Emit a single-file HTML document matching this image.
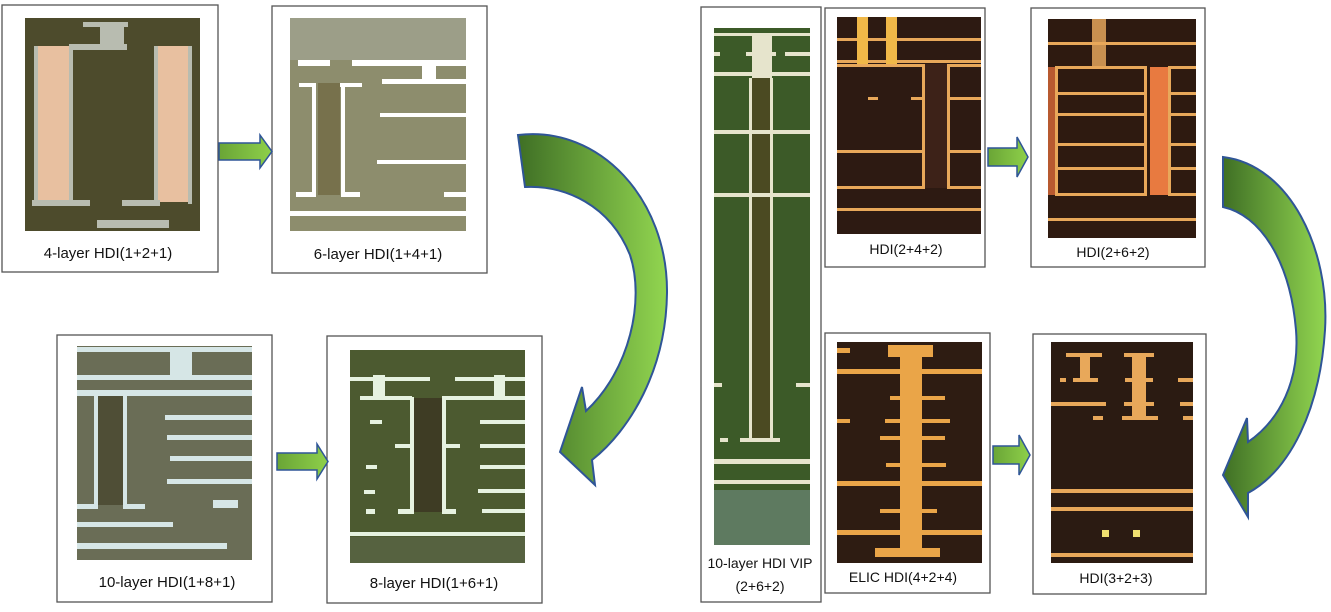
<!DOCTYPE html>
<html><head><meta charset="utf-8"><style>
html,body{margin:0;padding:0;background:#fff;width:1331px;height:612px;overflow:hidden}
svg{display:block}
text{font-family:"Liberation Sans",sans-serif;font-size:15px;fill:#111;text-anchor:middle}
</style></head><body>
<svg width="1331" height="612" viewBox="0 0 1331 612" xmlns="http://www.w3.org/2000/svg">
<defs>
<linearGradient id="g1" x1="0" y1="0" x2="1" y2="0"><stop offset="0" stop-color="#3f6f25"/><stop offset="1" stop-color="#92d650"/></linearGradient>
<linearGradient id="g2" x1="0" y1="0" x2="1" y2="0"><stop offset="0" stop-color="#6aa536"/><stop offset="1" stop-color="#8ed04a"/></linearGradient>
</defs>
<g fill="#fff" stroke="#555" stroke-width="1.3">
<rect x="2" y="5" width="216" height="267"/>
<rect x="272" y="6" width="215" height="267"/>
<rect x="57" y="335" width="215" height="267"/>
<rect x="327" y="336" width="215" height="267"/>
<rect x="701" y="7" width="120" height="595"/>
<rect x="825" y="8" width="160" height="259"/>
<rect x="1031" y="8" width="174" height="259"/>
<rect x="825" y="333" width="165" height="260"/>
<rect x="1033" y="334" width="173" height="260"/>
</g>
<!-- Image 1 -->
<rect x="25" y="18" width="175" height="213" fill="#4d4b2c"/>
<rect x="37" y="46" width="32" height="156" fill="#e8c0a0"/>
<rect x="157" y="46" width="31" height="156" fill="#e8c0a0"/>
<g fill="#b8bcb0">
<rect x="34" y="46" width="4" height="158"/><rect x="69" y="46" width="4" height="158"/>
<rect x="154" y="46" width="4" height="158"/><rect x="188" y="46" width="4" height="158"/>
<rect x="100" y="22" width="24" height="24"/><rect x="83" y="22" width="45" height="5"/>
<rect x="69" y="44" width="58" height="6"/><rect x="32" y="200" width="58" height="6"/><rect x="122" y="200" width="38" height="6"/>
<rect x="97" y="220" width="72" height="8"/>
</g>
<!-- Image 2 -->
<rect x="290" y="18" width="176" height="213" fill="#8d8d6d"/>
<rect x="290" y="18" width="176" height="42" fill="#9c9e88"/>
<rect x="318" y="83" width="22" height="112" fill="#77714c"/>
<g fill="#fff">
<rect x="298" y="60" width="32" height="6"/><rect x="352" y="60" width="114" height="6"/>
<rect x="422" y="62" width="14" height="20"/><rect x="382" y="79" width="84" height="5"/>
<rect x="299" y="83" width="17" height="4"/><rect x="340" y="83" width="22" height="4"/>
<rect x="312" y="85" width="4" height="110"/><rect x="341" y="85" width="4" height="110"/>
<rect x="296" y="192" width="20" height="5"/><rect x="341" y="192" width="19" height="5"/>
<rect x="380" y="113" width="86" height="4"/><rect x="377" y="160" width="89" height="4"/>
<rect x="444" y="192" width="22" height="5"/><rect x="290" y="211" width="176" height="5"/>
</g>
<!-- Image 3 -->
<rect x="77" y="346" width="175" height="214" fill="#6a6d56"/>
<rect x="98" y="395" width="25" height="110" fill="#4f4e36"/>
<g fill="#d6e6e6">
<rect x="77" y="347" width="175" height="5"/><rect x="170" y="350" width="22" height="28"/>
<rect x="77" y="375" width="175" height="5"/><rect x="77" y="390" width="175" height="6"/>
<rect x="94" y="395" width="4" height="112"/><rect x="123" y="395" width="4" height="112"/>
<rect x="77" y="504" width="21" height="5"/><rect x="123" y="504" width="22" height="5"/>
<rect x="165" y="415" width="87" height="5"/><rect x="167" y="435" width="85" height="5"/>
<rect x="170" y="456" width="82" height="5"/><rect x="167" y="479" width="85" height="5"/>
<rect x="213" y="500" width="25" height="8"/>
<rect x="77" y="522" width="96" height="5"/><rect x="77" y="543" width="150" height="6"/>
</g>
<!-- Image 4 -->
<rect x="350" y="350" width="175" height="213" fill="#4c5a30"/>
<rect x="350" y="537" width="175" height="26" fill="#566240"/>
<rect x="414" y="398" width="28" height="114" fill="#3e3c24"/>
<g fill="#e6f2e0">
<rect x="350" y="377" width="80" height="4"/><rect x="455" y="377" width="70" height="4"/>
<rect x="373" y="375" width="12" height="22"/><rect x="494" y="375" width="11" height="22"/>
<rect x="360" y="396" width="52" height="4"/><rect x="442" y="396" width="83" height="4"/>
<rect x="410" y="397" width="4" height="115"/><rect x="442" y="397" width="4" height="115"/>
<rect x="398" y="509" width="16" height="5"/><rect x="442" y="509" width="14" height="5"/>
<rect x="480" y="420" width="45" height="4"/><rect x="480" y="444" width="45" height="4"/>
<rect x="480" y="465" width="45" height="4"/><rect x="478" y="489" width="47" height="4"/><rect x="482" y="509" width="43" height="4"/>
<rect x="395" y="444" width="15" height="4"/><rect x="446" y="444" width="14" height="4"/>
<rect x="370" y="420" width="12" height="4"/><rect x="366" y="465" width="11" height="4"/><rect x="364" y="490" width="11" height="4"/><rect x="366" y="509" width="9" height="5"/>
<rect x="350" y="532" width="175" height="4"/>
</g>
<!-- VIP -->
<rect x="714" y="28" width="96" height="517" fill="#3c5a28"/>
<rect x="714" y="490" width="96" height="55" fill="#5e7a60"/>
<rect x="752" y="78" width="18" height="362" fill="#4b4a22"/>
<g fill="#e6e4cc">
<rect x="714" y="33" width="96" height="3"/><rect x="752" y="33" width="20" height="45"/>
<rect x="746" y="52" width="30" height="4"/><rect x="785" y="52" width="25" height="4"/><rect x="714" y="52" width="6" height="4"/>
<rect x="714" y="72" width="96" height="4"/>
<rect x="749" y="78" width="3" height="362"/><rect x="770" y="78" width="3" height="362"/>
<rect x="714" y="130" width="96" height="4"/><rect x="714" y="193" width="96" height="4"/>
<rect x="714" y="383" width="8" height="4"/><rect x="796" y="383" width="14" height="4"/>
<rect x="720" y="438" width="8" height="4"/><rect x="740" y="438" width="40" height="4"/>
<rect x="714" y="459" width="96" height="5"/><rect x="714" y="480" width="96" height="4"/>
</g>
<!-- HDI 2+4+2 -->
<rect x="837" y="17" width="144" height="217" fill="#2d1a12"/>
<rect x="924" y="64" width="23" height="124" fill="#3d2218"/>
<g fill="#e8a85a">
<rect x="837" y="38" width="144" height="3"/><rect x="837" y="60" width="144" height="3"/>
<rect x="857" y="17" width="11" height="47" fill="#f0b848"/><rect x="886" y="17" width="11" height="47" fill="#f0b848"/>
<rect x="837" y="64" width="88" height="3"/><rect x="922" y="64" width="3" height="124"/>
<rect x="947" y="64" width="34" height="3"/><rect x="947" y="64" width="3" height="124"/>
<rect x="868" y="97" width="10" height="3"/><rect x="911" y="97" width="12" height="3"/><rect x="950" y="97" width="31" height="3"/>
<rect x="837" y="150" width="88" height="3"/><rect x="947" y="150" width="34" height="3"/>
<rect x="837" y="186" width="88" height="3"/><rect x="947" y="186" width="34" height="3"/>
<rect x="837" y="208" width="144" height="3"/>
</g>
<!-- HDI 2+6+2 -->
<rect x="1048" y="19" width="148" height="219" fill="#2e1a10"/>
<rect x="1150" y="67" width="18" height="128" fill="#e87a40"/>
<rect x="1048" y="67" width="7" height="128" fill="#b85a30"/>
<g fill="#e8a85a">
<rect x="1092" y="19" width="14" height="48" fill="#c89050"/>
<rect x="1048" y="42" width="148" height="3"/>
<rect x="1055" y="66" width="92" height="3"/><rect x="1055" y="66" width="3" height="130"/><rect x="1144" y="66" width="3" height="130"/>
<rect x="1168" y="66" width="28" height="3"/><rect x="1168" y="66" width="3" height="130"/>
<rect x="1055" y="92" width="92" height="3"/><rect x="1055" y="113" width="92" height="3"/><rect x="1055" y="143" width="92" height="3"/><rect x="1055" y="167" width="92" height="3"/><rect x="1055" y="193" width="92" height="3"/>
<rect x="1168" y="92" width="28" height="3"/><rect x="1168" y="113" width="28" height="3"/><rect x="1168" y="143" width="28" height="3"/><rect x="1168" y="167" width="28" height="3"/><rect x="1168" y="193" width="28" height="3"/>
<rect x="1048" y="218" width="148" height="3"/>
</g>
<!-- ELIC -->
<rect x="837" y="342" width="145" height="221" fill="#2e1c12"/>
<g fill="#eaa548">
<rect x="900" y="345" width="22" height="210"/><rect x="888" y="345" width="45" height="12"/><rect x="875" y="548" width="65" height="9"/>
<rect x="837" y="369" width="145" height="5"/><rect x="890" y="396" width="55" height="4"/><rect x="885" y="419" width="65" height="4"/>
<rect x="880" y="436" width="65" height="4"/><rect x="886" y="463" width="60" height="4"/><rect x="837" y="481" width="145" height="5"/>
<rect x="880" y="509" width="57" height="4"/><rect x="837" y="530" width="145" height="5"/>
<rect x="837" y="348" width="13" height="5"/><rect x="837" y="419" width="13" height="4"/>
</g>
<!-- HDI 3+2+3 -->
<rect x="1051" y="342" width="142" height="221" fill="#2b1b12"/>
<g fill="#e8a85a">
<rect x="1080" y="353" width="10" height="28"/><rect x="1066" y="353" width="36" height="4"/><rect x="1073" y="378" width="25" height="4"/>
<rect x="1132" y="353" width="14" height="65"/><rect x="1124" y="353" width="30" height="4"/><rect x="1125" y="378" width="28" height="4"/><rect x="1124" y="402" width="30" height="4"/><rect x="1122" y="416" width="36" height="4"/>
<rect x="1051" y="402" width="55" height="4"/><rect x="1093" y="416" width="10" height="4"/><rect x="1060" y="378" width="6" height="4"/>
<rect x="1178" y="378" width="15" height="4"/><rect x="1180" y="402" width="13" height="4"/><rect x="1183" y="416" width="10" height="4"/>
<rect x="1051" y="489" width="142" height="4"/><rect x="1051" y="507" width="142" height="4"/>
<rect x="1102" y="530" width="7" height="7" fill="#f0e070"/><rect x="1133" y="530" width="7" height="7" fill="#f0e070"/>
<rect x="1051" y="553" width="142" height="4"/>
</g>
<!-- straight arrows -->
<g fill="url(#g2)" stroke="#2f5597" stroke-width="1.5" stroke-linejoin="miter">
<path d="M219 143 L260 143 L260 135 L272 151.5 L260 168 L260 160 L219 160 Z"/>
<path d="M277 453 L317 453 L317 444 L328 461.5 L317 479 L317 470 L277 470 Z"/>
<path d="M988 148 L1017 148 L1017 137 L1028 157 L1017 177 L1017 166 L988 166 Z"/>
<path d="M993 446 L1019 446 L1019 435 L1030 455 L1019 475 L1019 464 L993 464 Z"/>
</g>
<!-- curved arrows -->
<path fill="url(#g1)" stroke="#2f5597" stroke-width="2" d="M518 135 C600 125 668 200 667 293 C666 370 630 430 592 460 L595 485 L560 452 L582 387 L586 411 C630 370 645 300 630 255 C610 205 565 185 525 187 Z"/>
<path fill="url(#g1)" stroke="#2f5597" stroke-width="2" d="M1223 157 C1290 165 1330 250 1325 330 C1320 410 1290 470 1248 493 L1248 517 L1223 475 L1247 418 L1248 442 C1280 420 1300 380 1296 330 C1290 260 1260 215 1223 207 Z"/>
<!-- labels -->
<text x="108" y="258">4-layer HDI(1+2+1)</text>
<text x="378" y="259">6-layer HDI(1+4+1)</text>
<text x="167" y="587">10-layer HDI(1+8+1)</text>
<text x="434" y="588">8-layer HDI(1+6+1)</text>
<text x="760" y="568" style="font-size:14px">10-layer HDI VIP</text>
<text x="760" y="591" style="font-size:14px">(2+6+2)</text>
<text x="906" y="254" style="font-size:14px">HDI(2+4+2)</text>
<text x="1113" y="257" style="font-size:14px">HDI(2+6+2)</text>
<text x="903" y="582" style="font-size:14px">ELIC HDI(4+2+4)</text>
<text x="1116" y="583" style="font-size:14px">HDI(3+2+3)</text>
</svg>
</body></html>
